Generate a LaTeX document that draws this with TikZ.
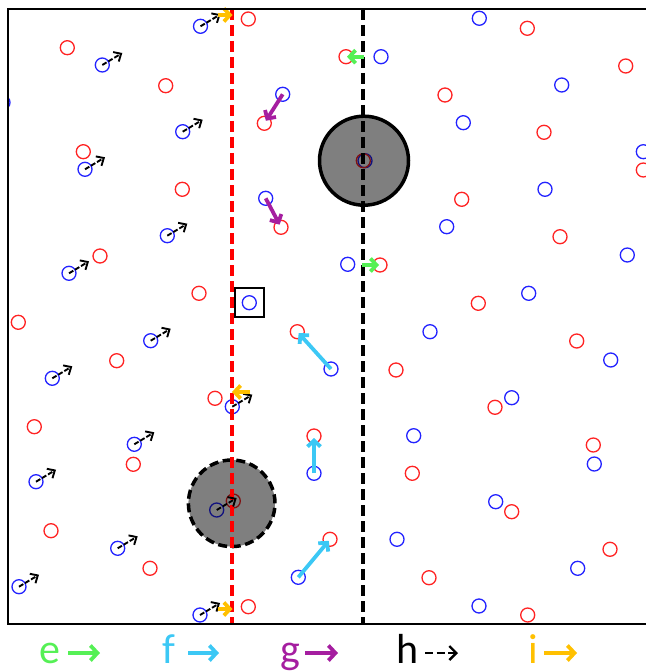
\documentclass[tikz,border=0pt]{standalone}
\usepackage{fontspec}
\setmainfont{Carlito}
\usetikzlibrary{arrows.meta}

\definecolor{siteRed}{RGB}{255,35,35}
\definecolor{siteBlue}{RGB}{35,35,255}
\definecolor{eGreen}{RGB}{85,240,85}
\definecolor{fCyan}{RGB}{60,200,245}
\definecolor{gPurple}{RGB}{165,30,160}
\definecolor{iGold}{RGB}{255,192,0}

\tikzset{
  rsite/.style={circle, draw=siteRed, line width=1.3pt, minimum size=14pt, inner sep=0pt},
  bsite/.style={circle, draw=siteBlue, line width=1.3pt, minimum size=14pt, inner sep=0pt},
  harrow/.style={draw=black, line width=1.9pt, dash pattern=on 5pt off 2pt,
                 -{Straight Barb[length=6pt,width=11pt]}},
  fatarrow/.style={line width=3.8pt, -{Straight Barb[length=6pt,width=13pt]}},
  boundary/.style={line width=3.3pt, dash pattern=on 11pt off 5pt},
  legtext/.style={anchor=base, inner sep=0pt, font=\fontsize{42}{42}\selectfont},
  legarrow/.style={line width=3.8pt, -{Straight Barb[length=7pt,width=15pt]}},
}

\begin{document}
\begin{tikzpicture}[x=1pt,y=-1pt]
\useasboundingbox (0,0) rectangle (645,671);

% lattice sites, clipped to the panel
\begin{scope}
\clip (8,9) rectangle (700,624);
% blue lattice
\foreach \n/\x/\y in {
  1/200.5/26.3, 2/102.3/65, 3/182.7/131.7, 4/85/169.3, 5/167.3/235.7,
  6/69/273.3, 7/150.7/340.7, 8/52.3/378.3, 9/232.3/406.7, 10/134.3/444.3,
  11/36/481.7, 12/216.7/510, 13/117.7/548.3, 14/19/586.7, 15/200/615,
  16/3/102.5, 17/282.7/94.3, 18/265.7/198.3, 19/249.3/302.7, 20/331/369,
  21/314/473.3, 22/298.3/577.3, 23/365/160.7, 24/381/56.7, 25/347.7/264.3,
  26/479.3/18.3, 27/561.7/85, 28/463.3/122.7, 29/643.3/151.7, 30/545/189.3,
  31/446.7/226.7, 32/627.3/255, 33/528.7/293.3, 34/430/331.7, 35/610.7/360,
  36/511.7/397.7, 37/413.7/435.7, 38/594.3/464, 39/495.7/501.7, 40/397/539.3,
  41/577.7/568.3, 42/479/606}
  \node[bsite] (b\n) at (\x,\y) {};
% red lattice
\foreach \n/\x/\y in {
  1/248.3/19, 2/67.3/47.7, 3/165.7/85.7, 4/83.3/151.7, 5/182.3/189.3,
  6/100/256, 7/199/293.3, 8/18.3/322.3, 9/116.7/360.7, 10/215/398.3,
  11/34.3/426.7, 12/133.3/464.3, 13/51/530.7, 14/150/568.3, 15/248.3/606.7,
  16/264.3/123.3, 17/281/227.3, 18/297.3/331.7, 19/314/436, 20/330/539.3,
  21/233.3/501, 22/363.3/160.7, 23/346/56.7, 24/380/265, 25/527.3/28.3,
  26/445/95, 27/544/132.3, 28/625.7/66, 29/461.7/199.3, 30/560/236.7,
  31/643.3/170, 32/478.3/303.3, 33/576.7/341, 34/396/370, 35/495/407.3,
  36/593.3/445, 37/412.3/473.3, 38/511.7/511.7, 39/610/549.3, 40/429/577.7,
  41/527.7/615}
  \node[rsite] (r\n) at (\x,\y) {};
\end{scope}

% shaded cores
\node[circle, minimum size=89pt, inner sep=0pt, fill=black, fill opacity=0.5,
      draw=black, line width=3.5pt] (coreA) at (364,160.7) {};
\node[circle, minimum size=86.6pt, inner sep=0pt, fill=black, fill opacity=0.5,
      draw=black, line width=3.5pt, dash pattern=on 9pt off 4.6pt] (coreB) at (231.7,503.3) {};

% boundaries
\coordinate (redTop) at (232,9);
\coordinate (redBot) at (232,624);
\coordinate (blkTop) at (363,9);
\coordinate (blkBot) at (363,624);
\draw[boundary, red] (redTop) -- (redBot);
\draw[boundary, black] (blkTop) -- (blkBot);

% displacements of the left grain
\foreach \n in {b1,b2,b3,b4,b5,b6,b7,b8,b9,b10,b11,b12,b13,b14,b15}
  \draw[harrow] (\n.center) -- ++(20,-12);

% crossings of the red boundary
\coordinate (o1s) at (218,15);   \coordinate (o1e) at (232.5,15);
\coordinate (o2s) at (250,392);  \coordinate (o2e) at (232,392);
\coordinate (o3s) at (218,609);  \coordinate (o3e) at (232.5,609);
\draw[fatarrow, iGold] (o1s) -- (o1e);
\draw[fatarrow, iGold] (o2s) -- (o2e);
\draw[fatarrow, iGold] (o3s) -- (o3e);

% crossings of the black boundary
\coordinate (e1s) at (364,56.7);
\coordinate (e2s) at (362,265);
\draw[fatarrow, eGreen, shorten >=1pt] (e1s) -- (r23.center);
\draw[fatarrow, eGreen, shorten >=1pt] (e2s) -- (r24.center);

% shuffles next to the red boundary
\draw[fatarrow, gPurple, shorten >=3pt] (b17.center) -- (r16.center);
\draw[fatarrow, gPurple, shorten >=3pt] (b18.center) -- (r17.center);
\draw[fatarrow, fCyan, shorten >=2pt] (b20.center) -- (r18.center);
\draw[fatarrow, fCyan, shorten >=2pt] (b21.center) -- (r19.center);
\draw[fatarrow, fCyan, shorten >=2pt] (b22.center) -- (r20.center);

% marked site
\node[draw=black, line width=2pt, minimum size=29pt, inner sep=0pt] (mark) at (b19.center) {};

% panel frame (open on the right)
\draw[line width=2pt] (700,9) -| (8,624) -- (700,624);

% legend
\node[legtext, text=eGreen] (le) at (50,663) {e};
\node[legtext, text=fCyan] (lf) at (169,663) {f};
\node[legtext, text=gPurple] (lg) at (290,663) {g};
\node[legtext, text=black] (lh) at (407.5,663) {h};
\node[legtext, text=iGold] (li) at (533,663) {i};
\coordinate (leA) at (68,653);  \coordinate (leB) at (100,653);
\coordinate (lfA) at (188,653); \coordinate (lfB) at (219,653);
\coordinate (lgA) at (305,653); \coordinate (lgB) at (338,653);
\coordinate (lhA) at (425,653); \coordinate (lhB) at (458,653);
\coordinate (liA) at (544,653); \coordinate (liB) at (577,653);
\draw[legarrow, eGreen] (leA) -- (leB);
\draw[legarrow, fCyan] (lfA) -- (lfB);
\draw[legarrow, gPurple] (lgA) -- (lgB);
\draw[line width=2.4pt, dash pattern=on 8pt off 3.5pt, -{Straight Barb[length=7pt,width=14pt]}] (lhA) -- (lhB);
\draw[legarrow, iGold] (liA) -- (liB);
\end{tikzpicture}
\end{document}
